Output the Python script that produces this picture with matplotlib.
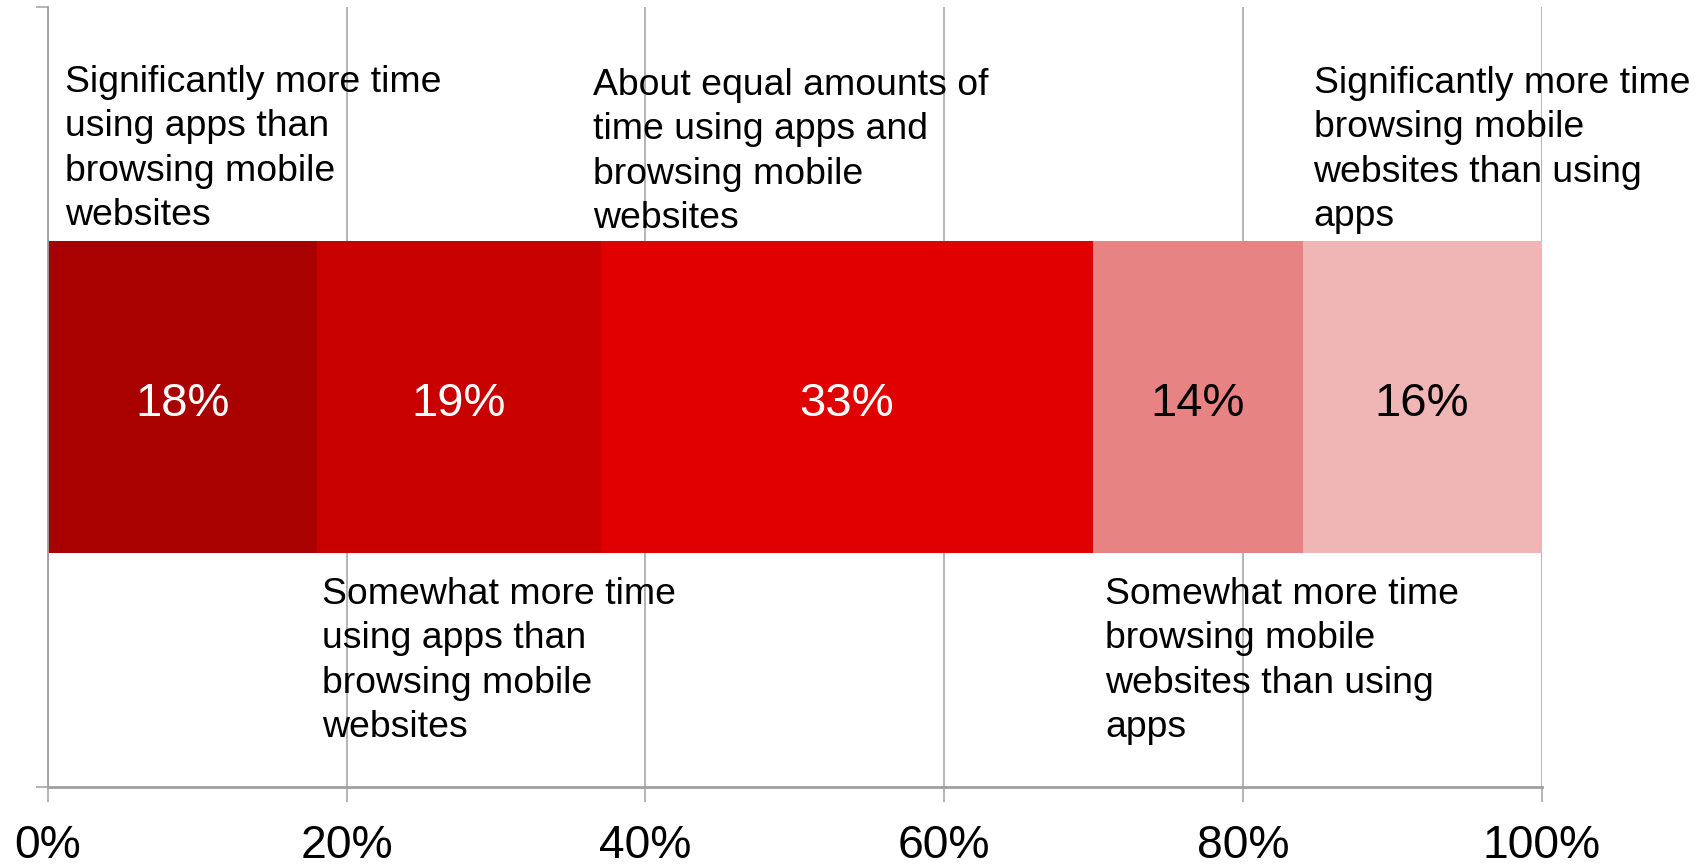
import matplotlib
matplotlib.use("Agg")
import matplotlib.pyplot as plt

# ---- data ----
categories = [
    "Significantly more time\nusing apps than\nbrowsing mobile\nwebsites",
    "Somewhat more time\nusing apps than\nbrowsing mobile\nwebsites",
    "About equal amounts of\ntime using apps and\nbrowsing mobile\nwebsites",
    "Somewhat more time\nbrowsing mobile\nwebsites than using\napps",
    "Significantly more time\nbrowsing mobile\nwebsites than using\napps",
]
values = [18, 19, 33, 14, 16]
value_labels = ["18%", "19%", "33%", "14%", "16%"]
xticks = [0, 20, 40, 60, 80, 100]
xtick_labels = ["0%", "20%", "40%", "60%", "80%", "100%"]

# ---- styles / layout ----
colors = ["#A90000", "#C80000", "#E00000", "#E88383", "#F0B5B5"]
value_text_colors = ["white", "white", "white", "black", "black"]
# label placement: x offset (pixels) from segment start, top y (pixels from figure top)
label_dx_px = [17, 5, -8, 12, 11]
label_top_px = [65, 577, 68, 577, 66]

plt.rcParams["font.family"] = ["Liberation Sans", "DejaVu Sans"]

W, H, DPI = 1704, 864, 100
fig = plt.figure(figsize=(W / DPI, H / DPI), dpi=DPI)
x0, x1, ytop, ybot = 48, 1541.5, 7, 787
ax = fig.add_axes([x0 / W, (H - ybot) / H, (x1 - x0) / W, (ybot - ytop) / H])

ax.set_xlim(0, 100)
ax.set_ylim(-0.5, 0.5)

grid_c = "#A0A0A0"
ax.set_axisbelow(True)
ax.xaxis.grid(True, color=grid_c, linewidth=1.1)

left = 0
starts = []
for v, c in zip(values, colors):
    ax.barh(0, v, left=left, height=0.4, color=c, edgecolor="none", zorder=2)
    starts.append(left)
    left += v

for s, v, lab, tc in zip(starts, values, value_labels, value_text_colors):
    ax.annotate(lab, xy=(s + v / 2, 0), xytext=(0, -5), textcoords="offset points",
                ha="center", va="center", fontsize=34, color=tc, zorder=3)

px_per_unit = (x1 - x0) / 100.0
for s, cat, dx, ty in zip(starts, categories, label_dx_px, label_top_px):
    ax.annotate(cat, xy=(s + dx / px_per_unit, H - ty),
                xycoords=("data", "figure pixels"),
                ha="left", va="top", fontsize=26.9, linespacing=1.35,
                color="black", annotation_clip=False, zorder=4)

ax.set_xticks(xticks)
ax.set_xticklabels(xtick_labels, fontsize=33.3)
ax.tick_params(axis="x", length=10.8, width=1.1, color=grid_c, pad=15.5)
ax.set_yticks([-0.5, 0.5])
ax.set_yticklabels([])
ax.tick_params(axis="y", length=8.6, width=1.1, color=grid_c)

for sp in ["top", "right"]:
    ax.spines[sp].set_visible(False)
ax.spines["left"].set_color(grid_c)
ax.spines["left"].set_linewidth(1.3)
ax.spines["bottom"].set_color(grid_c)
ax.spines["bottom"].set_linewidth(2.0)

fig.savefig("out.png", dpi=DPI)
